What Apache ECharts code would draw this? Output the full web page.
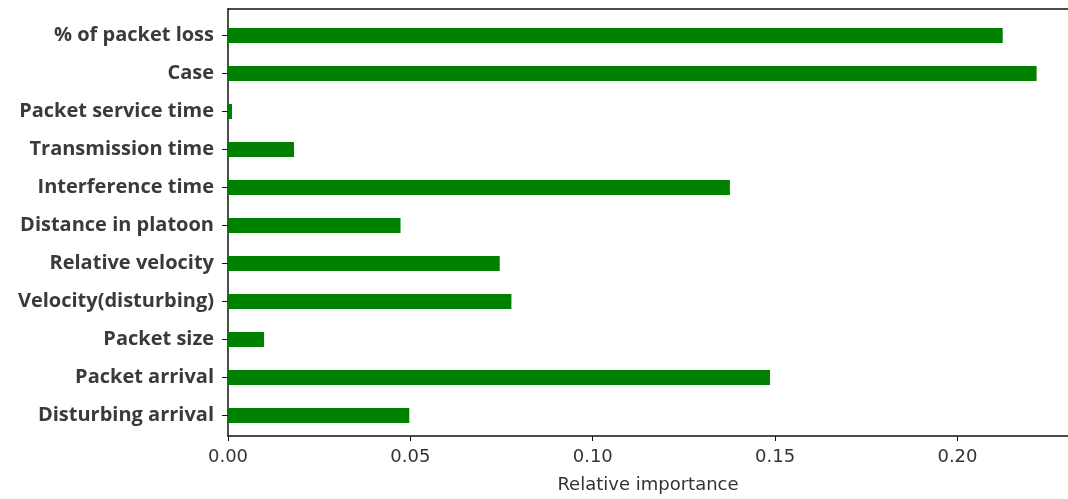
<!DOCTYPE html>
<html>
<head>
<meta charset="utf-8">
<script src="https://cdn.jsdelivr.net/npm/echarts@6/dist/echarts.min.js"></script>
<style>
  html, body { margin: 0; padding: 0; background: #fff; }
  #chart { width: 1068px; height: 499px; }
</style>
</head>
<body>
<div id="chart"></div>
<script>
// features, top to bottom as in the figure
const features = [
    '% of packet loss',
    'Case',
    'Packet service time',
    'Transmission time',
    'Interference time',
    'Distance in platoon',
    'Relative velocity',
    'Velocity(disturbing)',
    'Packet size',
    'Packet arrival',
    'Disturbing arrival'
]
const importance = [0.2124, 0.2217, 0.0011, 0.0181, 0.1376, 0.0473, 0.0745, 0.0777, 0.0099, 0.1486, 0.0497]
const xTicks = [0, 0.05, 0.10, 0.15, 0.20]

const xMax = 0.2303
const labelFont = '"Open Sans", Lato, sans-serif'
const tickFont = '"DejaVu Sans", sans-serif'

const chartDom = document.getElementById('chart')
const myChart = echarts.init(chartDom)

const option = {
    animation: false,
    grid: [
        // frame grid: spines and x ticks
        { left: 228, right: 0, top: 9, height: 434 },
        // bar grid: slightly inset like matplotlib margins
        { left: 228, right: 0, top: 16.5, height: 418 }
    ],
    xAxis: [
        {
            type: 'value', gridIndex: 0, position: 'bottom',
            min: 0, max: xMax, interval: 0.05,
            name: 'Relative importance', nameLocation: 'middle', nameGap: 40,
            nameTextStyle: { fontFamily: tickFont, fontSize: 18, color: '#333' },
            axisLine: { show: true, lineStyle: { color: '#111', width: 1.5 } },
            axisTick: { show: true, length: 5, lineStyle: { color: '#111' }, customValues: xTicks },
            axisLabel: {
                fontFamily: tickFont, fontSize: 18, color: '#333', margin: 12,
                customValues: xTicks,
                formatter: v => v.toFixed(2)
            },
            splitLine: { show: false }
        },
        {
            type: 'value', gridIndex: 0, position: 'top',
            min: 0, max: xMax,
            axisLine: { show: true, lineStyle: { color: '#111', width: 1.5 } },
            axisTick: { show: false }, axisLabel: { show: false }, splitLine: { show: false }
        },
        {
            type: 'value', gridIndex: 1, min: 0, max: xMax, show: false
        }
    ],
    yAxis: [
        {
            type: 'value', gridIndex: 0, position: 'left',
            axisLine: { show: true, lineStyle: { color: '#111', width: 1.5 } },
            axisTick: { show: false }, axisLabel: { show: false }, splitLine: { show: false }
        },
        {
            type: 'category', gridIndex: 1, inverse: true,
            data: features,
            axisLine: { show: false },
            axisTick: { show: true, alignWithLabel: true, length: 6, lineStyle: { color: '#111' } },
            axisLabel: {
                fontFamily: labelFont, fontWeight: 'bold', fontSize: 20, color: '#3a3a3a', margin: 14
            }
        }
    ],
    series: [
        {
            type: 'bar',
            xAxisIndex: 2,
            yAxisIndex: 1,
            data: importance,
            barWidth: 15,
            itemStyle: { color: '#008000' }
        }
    ]
}
myChart.setOption(option)
</script>
</body>
</html>
